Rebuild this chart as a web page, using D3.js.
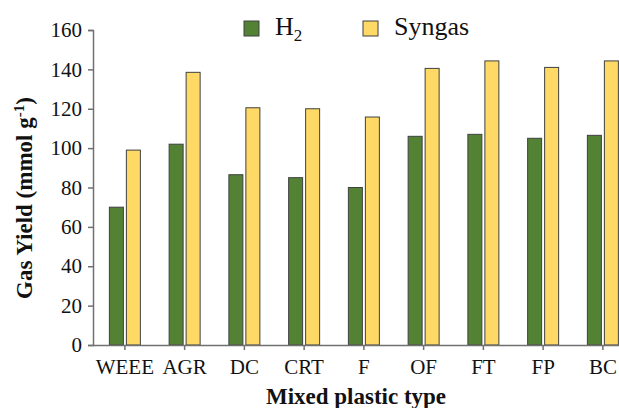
<!DOCTYPE html>
<html>
<head>
<meta charset="utf-8">
<script src="https://cdn.jsdelivr.net/npm/d3@7"></script>
<style>
  body { margin: 0; background: #fff; }
  svg { display: block; font-family: "Liberation Serif", "Times New Roman", serif; }
</style>
</head>
<body>
<div class="canva"></div>
<script>
// chart data
const categories = ["WEEE", "AGR", "DC", "CRT", "F", "OF", "FT", "FP", "BC"];
const h2Values = [70, 102, 86.5, 85, 80, 106, 107, 105, 106.5];
const syngasValues = [99, 138.5, 120.5, 120, 115.8, 140.5, 144.3, 141, 144.3];
const yTicks = [0, 20, 40, 60, 80, 100, 120, 140, 160];
const seriesNames = ["H2", "Syngas"];

const width = 619, height = 408;
const colors = { H2: "#548235", Syngas: "#ffd966" };

const svg = d3.select(".canva").append("svg")
  .attr("width", width)
  .attr("height", height);

const margin = { top: 30, left: 93, bottom: 345 };

// x: band per plastic type (plot runs past the right edge like the original)
const x = d3.scaleBand()
  .domain(categories)
  .range([95, 95 + categories.length * 59.75]);

const y = d3.scaleLinear()
  .domain([0, 160])
  .range([margin.bottom, margin.top]);

const barW = 14, gap = 3;

const rows = categories.map((c, i) => ({ cat: c, H2: h2Values[i], Syngas: syngasValues[i] }));

// bars
const groups = svg.selectAll(".grp")
  .data(rows)
  .enter().append("g")
  .attr("class", "grp")
  .attr("transform", d => `translate(${x(d.cat) + x.bandwidth() / 2},0)`);

groups.selectAll("rect")
  .data(d => seriesNames.map((s, j) => ({ s: s, v: d[s], j: j })))
  .enter().append("rect")
  .attr("x", d => d.j === 0 ? -barW - gap / 2 : gap / 2)
  .attr("y", d => y(d.v))
  .attr("width", barW)
  .attr("height", d => y(0) - y(d.v))
  .attr("fill", d => colors[d.s])
  .attr("stroke", "#404040")
  .attr("stroke-width", 1);

// y axis
const yAxis = svg.append("g")
  .attr("transform", `translate(${margin.left},0)`)
  .call(d3.axisLeft(y).tickValues(yTicks).tickSize(5).tickPadding(6));

// x axis
const xAxis = svg.append("g")
  .attr("transform", `translate(0,${margin.bottom})`)
  .call(d3.axisBottom(x).tickSize(5).tickPadding(9));
xAxis.select(".domain").attr("d", `M${margin.left},0.5H${width}`);

[yAxis, xAxis].forEach(a => {
  a.select(".domain").attr("stroke", "#707070").attr("stroke-width", 1.5);
  a.selectAll(".tick line").attr("stroke", "#707070").attr("stroke-width", 1.5);
  a.selectAll("text")
    .attr("fill", "#111")
    .style("font-family", "Liberation Serif, serif")
    .style("font-size", "21px");
});

// axis titles
const yTitle = svg.append("text")
  .attr("transform", "translate(32,198) rotate(-90)")
  .attr("text-anchor", "middle")
  .attr("font-weight", "bold")
  .attr("font-size", 23)
  .attr("fill", "#111");
yTitle.append("tspan").text("Gas Yield  (mmol g");
yTitle.append("tspan").attr("dy", -8).attr("font-size", 15).text("-1");
yTitle.append("tspan").attr("dy", 8).text(")");

svg.append("text")
  .attr("x", 356)
  .attr("y", 404)
  .attr("text-anchor", "middle")
  .attr("font-weight", "bold")
  .attr("font-size", 23)
  .attr("fill", "#111")
  .text("Mixed plastic type");

// legend
const legendX = [244, 363];
const legend = svg.selectAll(".leg")
  .data(seriesNames)
  .enter().append("g")
  .attr("class", "leg")
  .attr("transform", (d, i) => `translate(${legendX[i]},21)`);

legend.append("rect")
  .attr("width", 15)
  .attr("height", 15)
  .attr("fill", d => colors[d])
  .attr("stroke", "#404040");

legend.append("text")
  .attr("x", 31)
  .attr("y", 14)
  .attr("font-size", 26)
  .attr("fill", "#111")
  .each(function(d) {
    const t = d3.select(this);
    if (d === "H2") {
      t.append("tspan").text("H");
      t.append("tspan").attr("dy", 6).attr("font-size", 17).text("2");
    } else {
      t.text(d);
    }
  });
</script>
</body>
</html>
